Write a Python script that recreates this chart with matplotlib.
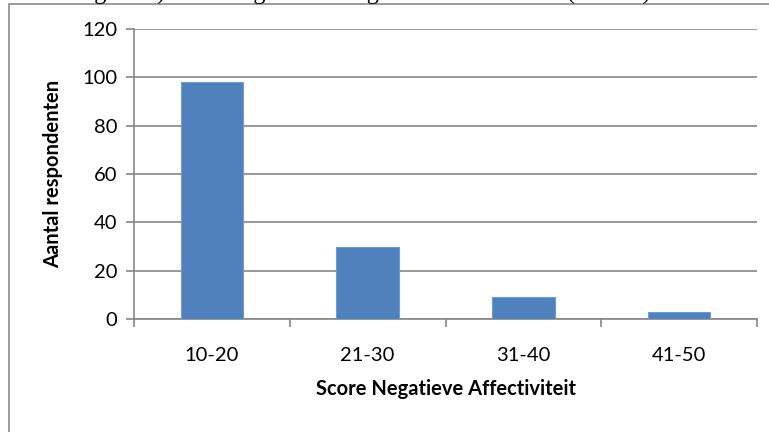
import matplotlib
matplotlib.use("Agg")
import matplotlib.pyplot as plt
from matplotlib.patches import Rectangle

categories = ["10-20", "21-30", "31-40", "41-50"]
counts = [98, 30, 9, 3]
y_ticks = [0, 20, 40, 60, 80, 100, 120]

title = "Figuur 3) Verdeling scores Negatieve Affectiviteit (N=140)"
x_label = "Score Negatieve Affectiviteit"
y_label = "Aantal respondenten"

bar_color = "#4F81BD"
grid_color = "#868686"
font = "Lato"
fs = 14.5

W, H = 769, 432
fig = plt.figure(figsize=(W / 100, H / 100), dpi=100)

# chart frame, running off the right and bottom edges
fig.patches.append(Rectangle((9 / W, -0.1), 1.2, 1.1 - 4 / H, transform=fig.transFigure,
                             fill=False, edgecolor="#8c8c8c", linewidth=1.2))

# caption sitting above the frame, mostly outside the page
fig.text(74 / W, 1.0 + 1 / H, title, ha="left", va="baseline",
         family="Liberation Serif", fontsize=17.5, color="black")

ax = fig.add_axes([134 / W, 1 - 319 / H, (757 - 134) / W, (319 - 29) / H])
x = list(range(len(categories)))
ax.bar(x, counts, width=0.4, color=bar_color, edgecolor="#6f9bd0", linewidth=0.8, zorder=3)

ax.set_xlim(-0.5, len(categories) - 0.5)
ax.set_ylim(0, 120)
ax.set_yticks(y_ticks)
ax.set_yticklabels([str(v) for v in y_ticks], family=font, fontsize=fs)
ax.set_xticks(x)
ax.set_xticklabels(categories, family=font, fontsize=fs)
ax.set_xticks([i - 0.5 for i in range(len(categories) + 1)], minor=True)

ax.tick_params(axis="x", which="major", length=0, pad=20)
ax.tick_params(axis="x", which="minor", length=6, width=1.2, color=grid_color, direction="out")
ax.tick_params(axis="y", which="major", length=6, width=1.2, color=grid_color, pad=6)

ax.yaxis.grid(True, color=grid_color, linewidth=1.2, zorder=0)
ax.set_axisbelow(True)
for side in ("top", "right"):
    ax.spines[side].set_visible(False)
for side in ("left", "bottom"):
    ax.spines[side].set_color(grid_color)
    ax.spines[side].set_linewidth(1.2)

ax.set_xlabel(x_label, family=font, fontsize=fs, fontweight="bold", labelpad=11)
ax.set_ylabel(y_label, family=font, fontsize=fs, fontweight="bold", labelpad=14)

fig.savefig("out.png", dpi=100)
